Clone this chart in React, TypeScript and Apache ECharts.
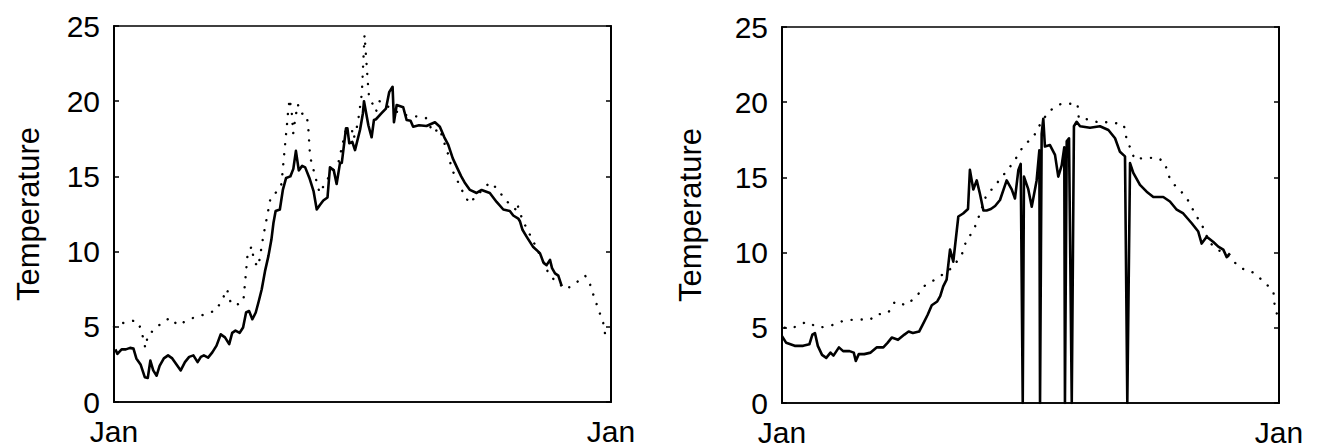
import React, { useEffect, useRef } from "react";
import * as echarts from "echarts";

const xTickLabel = "Jan";
const yTicks = [0, 5, 10, 15, 20, 25];
const yName = "Temperature";

// Left panel: solid (observed) series, [day, temperature]
const leftSolid: [number, number][] = [
  [1, 3.5], [2.5, 3.2], [5.6, 3.5], [8.7, 3.5], [11.8, 3.6], [14.3, 3.55], [16.4, 2.9], [19.5, 2.5],
  [22.6, 1.65], [24.8, 1.6], [26.7, 2.75], [28.8, 2.1], [31.3, 1.75], [33.5, 2.4], [36.6, 2.9], [39.7, 3.1],
  [42.8, 2.9], [45.9, 2.5], [49, 2.1], [52.1, 2.65], [55.2, 3.0], [58.3, 3.1], [61.4, 2.65], [63.8, 3.0],
  [66, 3.1], [69.1, 2.95], [72.2, 3.3], [75.3, 3.75], [78.4, 4.5], [81.5, 4.3], [84.6, 3.85], [86.8, 4.6],
  [89.2, 4.75], [92.3, 4.6], [94.8, 4.95], [97, 5.95], [99.2, 6.05], [101.6, 5.5], [104.1, 5.95], [106.3, 6.7],
  [108.5, 7.5], [110.9, 8.7], [113.4, 9.7], [115.6, 10.8], [117.1, 11.9], [118.7, 12.7], [121.8, 12.8], [124, 14.1],
  [126.4, 14.9], [129.5, 15.0], [131.7, 15.5], [133.6, 16.7], [135.7, 15.4], [138.2, 15.7], [140.4, 15.6], [143.5, 14.9],
  [146.6, 14.0], [148.9, 12.8], [151.2, 13.1], [153.7, 13.4], [156.8, 13.6], [158.6, 15.6], [161.4, 15.4], [163.5, 14.5],
  [166, 15.9], [167.3, 15.9], [170.4, 18.2], [171.4, 18.2], [172.8, 17.2], [175, 17.3], [177, 16.75], [180.7, 18.1],
  [182.8, 19.2], [183.6, 20.0], [186.8, 18.4], [189.2, 17.6], [190.9, 18.75], [192.4, 18.8], [196.5, 19.2], [199.7, 19.5],
  [202.1, 20.6], [204.6, 20.96], [205.6, 18.6], [207.6, 19.75], [212.4, 19.6], [214.9, 18.75], [217.8, 18.7], [219.7, 18.3],
  [224, 18.4], [229.5, 18.35], [235.7, 18.6], [239.3, 18.3], [242.6, 17.6], [245.5, 17.1], [248.8, 16.2], [251.6, 15.65],
  [255, 15.0], [257.5, 14.6], [261.4, 14.1], [266.3, 13.9], [270, 14.1], [276, 13.9], [281, 13.3], [285.9, 12.8],
  [290.7, 12.7], [293.2, 12.4], [296.9, 12.2], [298.2, 12.0], [300, 11.45], [303, 11.0], [307.9, 10.3], [312.8, 9.9],
  [315.5, 9.25], [317.7, 9.1], [320.2, 9.45], [321.7, 8.9], [323.9, 8.55], [326.3, 8.4], [328.8, 7.7],
];

// Left panel: dotted (reference) series
const leftDotted: [number, number][] = [
  [0, 5.0], [4, 5.2], [14, 5.4], [18, 5.3], [21, 4.4], [23, 3.6], [25, 4.5], [27, 4.6], [33, 5.1], [41, 5.6],
  [47, 5.1], [53, 5.4], [61, 5.7], [66, 5.8], [75, 6.1], [80, 6.9], [83, 7.5], [86, 6.5], [91, 6.5], [95, 6.7],
  [98, 9.7], [101, 10.35], [103, 9.3], [106, 9.0], [108, 10.1], [110, 11.2], [113, 12.6], [115, 13.6], [121, 14.1],
  [123, 14.5], [124, 15.5], [125, 16.5], [126, 17.45], [127, 18.4], [128, 19.45], [129, 20.15], [130.5, 19.3],
  [131.6, 17.85], [133, 18.8], [135, 19.8], [137, 19.2], [141.5, 19.1], [142.7, 18.2], [143.4, 17.2], [144, 16.3],
  [151, 13.9], [158, 15.0], [165, 16.0], [170, 18.0], [174.5, 18.2], [176, 17.5], [179, 18.5], [182, 20.5],
  [184, 24.4], [187, 20.5], [189, 20.0], [192.4, 19.3], [195, 20.0], [202, 19.6], [211.5, 19.1], [221, 19.0],
  [229, 18.9], [234.5, 17.9], [239, 18.2], [246, 16.3], [248, 15.5], [256, 14.0], [261, 13.2], [264, 13.5],
  [276, 14.6], [280, 14.3], [290, 13.2], [295, 12.8], [296, 13.2], [300, 12.1], [310, 10.3], [320, 8.4],
  [325, 8.0], [332, 7.5], [339, 7.9], [346, 8.4], [349, 8.0], [352.5, 7.0], [356, 6.1], [359.5, 5.2], [361, 4.3],
];

// Right panel: solid series (with dropouts to zero)
const rightSolid: [number, number][] = [
  [0, 4.45], [3.1, 4.0], [9.3, 3.8], [15.5, 3.8], [20.1, 3.9], [22.3, 4.55], [24.2, 4.65], [26.3, 3.8],
  [29.4, 3.2], [32.5, 3.0], [35.6, 3.35], [37.8, 3.15], [41.8, 3.7], [44.9, 3.45], [49.6, 3.45], [52.7, 3.35],
  [54.2, 2.8], [56.4, 3.25], [60.4, 3.25], [65.1, 3.35], [69.7, 3.7], [74.4, 3.7], [77.5, 4.0], [80.6, 4.35],
  [85.2, 4.2], [89.9, 4.55], [93, 4.75], [96.1, 4.65], [100.7, 4.75], [103.8, 5.3], [106.9, 5.85], [110, 6.5],
  [114, 6.75], [116.2, 7.1], [118.4, 7.75], [120.9, 8.2], [123.4, 10.2], [125.8, 9.4], [129.5, 12.4], [133, 12.6],
  [136.6, 12.9], [138, 15.5], [140.5, 14.2], [143, 14.8], [145.4, 13.9], [147.9, 12.8], [150.3, 12.8], [153.4, 12.9],
  [156.5, 13.1], [160.1, 13.5], [165, 14.8], [168.7, 14.2], [171.1, 13.6], [173.6, 15.5], [175.3, 15.9], [176.8, 0],
  [177.7, 15.05], [180.9, 14.2], [183.4, 13.05], [187, 14.8], [189, 16.8], [189.5, 0], [190.7, 17.9], [191.9, 18.9],
  [193.1, 17.05], [196.8, 17.15], [200.5, 16.5], [202.9, 15.05], [205.4, 15.8], [207.3, 17.0], [207.8, 0], [209.1, 17.4],
  [210.8, 17.6], [212.8, 0], [214.4, 18.4], [216.4, 18.7], [218.9, 18.4], [226.2, 18.3], [233.5, 18.4], [239.7, 18.15],
  [244.6, 17.6], [248.2, 16.7], [251.9, 16.4], [253.6, 0], [255.6, 15.95], [258, 15.3], [262.9, 14.5], [267.8, 14.05],
  [272.7, 13.7], [280, 13.7], [284.9, 13.4], [289.9, 12.85], [294.7, 12.6], [300.9, 11.95], [305.7, 11.4], [308.2, 10.6],
  [311.9, 11.05], [316.8, 10.7], [320.4, 10.4], [324.1, 10.2], [326.6, 9.7], [329, 9.95],
];

// Right panel: dotted series
const rightDotted: [number, number][] = [
  [2, 5.0], [8, 5.0], [18, 5.4], [27, 5.0], [36, 5.15], [46, 5.5], [56, 5.55], [65, 5.55], [68, 5.85], [78, 6.0],
  [83, 6.75], [91, 6.5], [99, 7.1], [104, 7.75], [115, 8.35], [125, 9.0], [132, 9.85], [135, 10.7], [141, 11.55],
  [145, 12.5], [150, 13.8], [155, 14.3], [163, 15.2], [170, 16.0], [177, 17.05], [185, 17.75], [190, 18.6],
  [196, 19.4], [205, 19.9], [217, 19.9], [218, 18.9], [226, 18.85], [234, 18.6], [240, 18.7], [251, 18.5],
  [253, 17.6], [259, 16.2], [266, 16.3], [276, 16.3], [281, 16.0], [284, 15.1], [287, 14.6], [292, 14.2],
  [298, 13.5], [303, 12.65], [311, 11.4], [313, 10.75], [320, 10.2], [329, 9.7], [334, 9.2], [337, 8.95],
  [344, 8.8], [349, 8.45], [356, 7.9], [361, 7.3], [362, 6.3], [364, 5.8],
];

const FONT = "'Liberation Sans', Arial, Helvetica, sans-serif";

export default function App() {
  const ref = useRef<HTMLDivElement>(null);
  useEffect(() => {
    if (!ref.current) return;
    const chart = echarts.init(ref.current, undefined, { renderer: "svg" });
    const grids = [
      { left: 114, top: 26, width: 497, height: 376 },
      { left: 782, top: 27, width: 497, height: 376 },
    ];
    const xAxis = grids.map((_, i) => ({
      type: "value",
      gridIndex: i,
      min: 0,
      max: 365,
      interval: 365,
      axisLine: { show: true, lineStyle: { color: "#000", width: 1.5 } },
      axisTick: { show: false },
      splitLine: { show: false },
      axisLabel: {
        show: true,
        showMinLabel: true,
        showMaxLabel: true,
        formatter: () => xTickLabel,
        color: "#000",
        fontFamily: FONT,
        fontSize: 30,
        lineHeight: 24,
        margin: 17,
      },
    }));
    const yAxis: any[] = [];
    grids.forEach((_, i) => {
      yAxis.push({
        type: "value",
        gridIndex: i,
        position: "left",
        min: yTicks[0],
        max: yTicks[yTicks.length - 1],
        interval: 5,
        name: yName,
        nameLocation: "middle",
        nameRotate: 90,
        nameGap: i === 0 ? 70 : 76,
        nameTextStyle: { color: "#000", fontFamily: FONT, fontSize: 31 },
        axisLine: { show: true, lineStyle: { color: "#000", width: 2 } },
        axisTick: { show: true, inside: true, length: 5, lineStyle: { color: "#000", width: 1.5 } },
        splitLine: { show: false },
        axisLabel: { color: "#000", fontFamily: FONT, fontSize: 30, lineHeight: 22, margin: 14 },
      });
      yAxis.push({
        type: "value",
        gridIndex: i,
        position: "right",
        min: yTicks[0],
        max: yTicks[yTicks.length - 1],
        interval: 5,
        axisLine: { show: true, lineStyle: { color: "#000", width: 2 } },
        axisTick: { show: true, inside: true, length: 5, lineStyle: { color: "#000", width: 1.5 } },
        splitLine: { show: false },
        axisLabel: { show: false },
      });
    });
    const solidStyle = { color: "#000", width: 2.6, join: "round" };
    const dotStyle = { color: "#000", width: 2.4, type: [0.1, 10], cap: "round" };
    chart.setOption({
      animation: false,
      backgroundColor: "#fff",
      grid: grids.map((g) => ({ ...g, show: true, borderColor: "#000", borderWidth: 1.5, containLabel: false })),
      xAxis,
      yAxis,
      series: [
        { type: "line", xAxisIndex: 0, yAxisIndex: 0, data: leftDotted, showSymbol: false, lineStyle: dotStyle, z: 2 },
        { type: "line", xAxisIndex: 0, yAxisIndex: 0, data: leftSolid, showSymbol: false, lineStyle: solidStyle, z: 3 },
        { type: "line", xAxisIndex: 1, yAxisIndex: 2, data: rightDotted, showSymbol: false, lineStyle: dotStyle, z: 2 },
        { type: "line", xAxisIndex: 1, yAxisIndex: 2, data: rightSolid, showSymbol: false, lineStyle: solidStyle, z: 3 },
      ],
    });
    return () => chart.dispose();
  }, []);
  return (
    <div
      ref={ref}
      style={{ position: "fixed", left: 0, top: 0, width: 1322, height: 448, background: "#fff" }}
    />
  );
}
